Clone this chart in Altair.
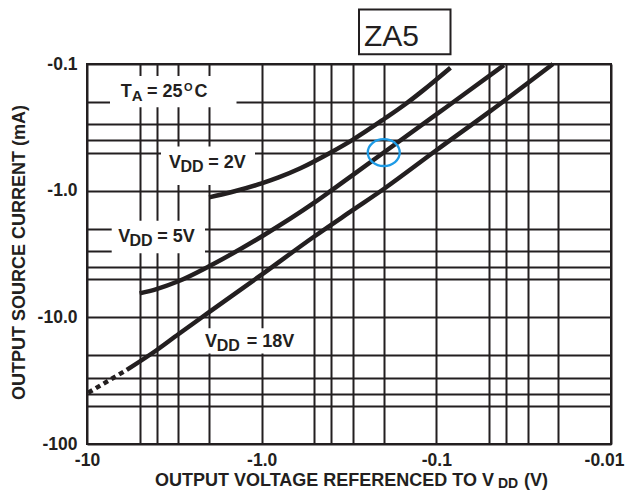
import altair as alt
import pandas as pd

# ---------------- data (magnitudes; the axes show them as negative numbers) ----------------
x_grid = [10, 5, 4, 3, 2, 1, 0.5, 0.4, 0.3, 0.2, 0.1, 0.05, 0.04, 0.03, 0.02, 0.01]
x_tick_values = [10, 1, 0.1, 0.01]
x_tick_labels = ["-10", "-1.0", "-0.1", "-0.01"]

y_grid = [0.1, 0.2, 0.3, 0.4, 0.5, 1, 2, 3, 4, 5, 10, 20, 30, 40, 50, 100]
y_tick_values = [0.1, 1, 10, 100]
y_tick_labels = ["-0.1", "-1.0", "-10.0", "-100"]

# output voltage referenced to VDD |V| (V)  /  output source current |I| (mA)
vdd2_v = [2.0, 1.5, 1.0, 0.8, 0.6, 0.4, 0.3, 0.2, 0.15, 0.12, 0.083]
vdd2_i = [1.13, 1.03, 0.875, 0.785, 0.665, 0.497, 0.395, 0.273, 0.207, 0.163, 0.107]

vdd5_v = [5.0, 4.0, 3.0, 2.0, 1.0, 0.5, 0.4, 0.3, 0.2, 0.1, 0.07, 0.041]
vdd5_i = [6.47, 5.98, 5.19, 3.95, 2.3, 1.245, 1.0, 0.75, 0.5, 0.25, 0.175, 0.102]

vdd18_v = [5.92, 4.0, 3.0, 2.0, 1.0, 0.5, 0.3, 0.2, 0.1, 0.05, 0.0215]
vdd18_i = [26.0, 18.2, 13.6, 9.1, 4.6, 2.3, 1.42, 0.97, 0.48, 0.24, 0.1]

# dashed extension of the 18 V curve
vdd18_ext_v = [9.85, 5.92]
vdd18_ext_i = [39.4, 26.0]

# highlighted point (blue ellipse)
mark_v = [0.2]
mark_i = [0.5]

# ---------------- styling ----------------
INK = "#231F20"
BLUE = "#1E9BE6"
FONT = "Liberation Sans"
X0, Y0 = 87, 64  # page position of the plot's top-left corner


def expr_for(values, labels):
    parts = [f"abs(datum.value / {v} - 1) < 1e-6 ? '{t}'" for v, t in zip(values, labels)]
    return " : ".join(parts) + " : ''"


def curve_df(vs, cs, name):
    return pd.DataFrame({"v": vs, "i": cs, "curve": name, "k": list(range(len(vs)))})


curves = pd.concat([
    curve_df(vdd2_v, vdd2_i, "2V"),
    curve_df(vdd5_v, vdd5_i, "5V"),
    curve_df(vdd18_v, vdd18_i, "18V"),
])
ext = curve_df(vdd18_ext_v, vdd18_ext_i, "18Vext")
marker = pd.DataFrame({"v": mark_v, "i": mark_i})
one = pd.DataFrame({"k": [0]})

xscale = alt.Scale(type="log", domain=[0.01, 10], reverse=True)
yscale = alt.Scale(type="log", domain=[0.1, 100], reverse=True)

xaxis = alt.Axis(
    values=x_grid, labelExpr=expr_for(x_tick_values, x_tick_labels), title=None,
    grid=True, gridColor=INK, gridWidth=2, gridOpacity=1,
    ticks=False, tickSize=0, domain=False, labelPadding=7,
    labelOffset={"condition": {"test": "datum.value < 0.011", "value": -7}, "value": 0},
    labelFlush=False, labelOverlap=False, labelFont=FONT, labelFontSize=17.5,
    labelFontWeight="bold", labelColor=INK,
)
yaxis = alt.Axis(
    values=y_grid, labelExpr=expr_for(y_tick_values, y_tick_labels),
    title="OUTPUT SOURCE CURRENT (mA)", titleFont=FONT, titleFontSize=18,
    titleFontWeight="bold", titleColor=INK, titleAngle=270, titleX=-62.5, titleY=188,
    titleBaseline="alphabetic", titleAlign="center",
    grid=True, gridColor=INK, gridWidth=2, gridOpacity=1,
    ticks=False, tickSize=0, domain=False, labelPadding=10,
    labelFlush=False, labelOverlap=False, labelFont=FONT, labelFontSize=17.5,
    labelFontWeight="bold", labelColor=INK,
)

base = alt.Chart(curves).mark_line(opacity=0).encode(
    x=alt.X("v:Q", scale=xscale, axis=xaxis),
    y=alt.Y("i:Q", scale=yscale, axis=yaxis),
    detail="curve:N",
    order="k:Q",
)

lines = alt.Chart(curves).mark_line(
    color=INK, strokeWidth=4.5, interpolate="monotone", strokeCap="butt"
).encode(
    x=alt.X("v:Q", scale=xscale),
    y=alt.Y("i:Q", scale=yscale),
    detail="curve:N",
    order="k:Q",
)

dashed = alt.Chart(ext).mark_line(
    color=INK, strokeWidth=4.5, strokeDash=[5, 4], strokeCap="butt"
).encode(
    x=alt.X("v:Q", scale=xscale),
    y=alt.Y("i:Q", scale=yscale),
    order="k:Q",
)

ellipse_path = ("M 1 0 C 1 0.464 0.552 0.84 0 0.84 C -0.552 0.84 -1 0.464 -1 0 "
                "C -1 -0.464 -0.552 -0.84 0 -0.84 C 0.552 -0.84 1 -0.464 1 0 Z")
ellipse = alt.Chart(marker).mark_point(
    shape=ellipse_path, size=1024, filled=False, stroke=BLUE, strokeWidth=2.3, opacity=1
).encode(
    x=alt.X("v:Q", scale=xscale),
    y=alt.Y("i:Q", scale=yscale),
)


def box(x1, y1, x2, y2, stroke=None):
    kw = dict(fill="white")
    if stroke:
        kw.update(stroke=stroke, strokeWidth=2)
    else:
        kw.update(strokeWidth=0)
    return alt.Chart(one).mark_rect(**kw).encode(
        x=alt.value(x1 - X0), x2=alt.value(x2 - X0),
        y=alt.value(y1 - Y0), y2=alt.value(y2 - Y0),
    )


def txt(s, x, y, size, weight="bold"):
    return alt.Chart(one).mark_text(
        text=s, align="left", baseline="alphabetic", font=FONT,
        fontSize=size, fontWeight=weight, color=INK,
    ).encode(x=alt.value(x - X0), y=alt.value(y - Y0))


boxes = [
    box(110, 76, 236.5, 107.3),      # T_A label
    box(161, 146.5, 255, 185),       # VDD = 2V
    box(111.7, 220.7, 205, 253.3),   # VDD = 5V
    box(200, 328.3, 300, 353.5),     # VDD = 18V
]

texts = [
    # T_A = 25 oC
    txt("T", 120.7, 96.7, 18), txt("A", 131.8, 100.7, 15), txt("= 25", 147, 96.7, 18),
    txt("O", 184, 90.7, 11), txt("C", 194.5, 96.7, 18),
    # VDD = 2V
    txt("V", 169, 168.3, 18), txt("DD", 180.5, 172, 16), txt("= 2V", 208.3, 168.3, 18),
    # VDD = 5V
    txt("V", 118.3, 241.7, 18), txt("DD", 129.5, 245.7, 16), txt("= 5V", 157.3, 241.7, 18),
    # VDD = 18V
    txt("V", 205, 346.7, 18), txt("DD", 216.7, 350.7, 16), txt("= 18V", 246.7, 346.7, 18),
    # x axis title
    txt("OUTPUT VOLTAGE REFERENCED TO V", 155, 486, 18), txt("DD", 498, 487.5, 14),
    txt("(V)", 524, 486, 18),
]

za5 = [
    box(359, 9.5, 450.5, 54.3, stroke=INK),
    txt("ZA5", 364, 45.7, 30, weight="normal"),
]

chart = alt.layer(
    base, *boxes, lines, dashed, ellipse, *texts, *za5
).properties(
    width=524, height=380,
    autosize=alt.AutoSizeParams(type="none"),
    padding={"left": 79, "top": 56, "right": 14, "bottom": 46},
).configure_view(
    stroke=INK, strokeWidth=2
)

chart.save("out.html", embed_options={"renderer": "svg", "actions": False})
